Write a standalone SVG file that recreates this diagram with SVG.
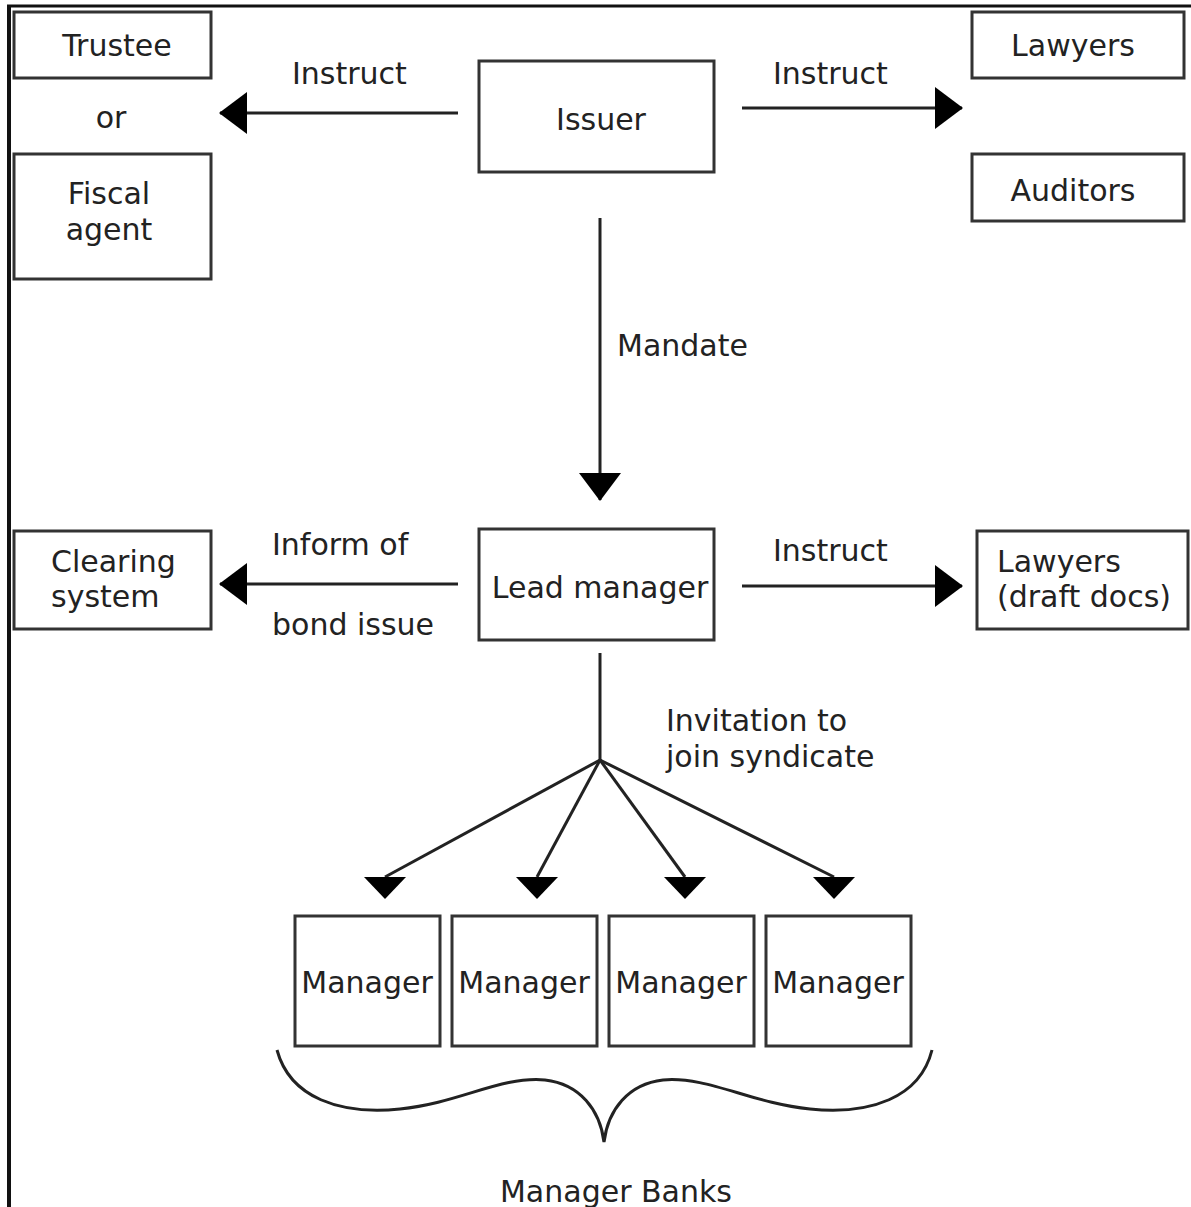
<svg xmlns="http://www.w3.org/2000/svg" width="1191" height="1207" viewBox="0 0 1191 1207">
<style>
  .box { fill: #ffffff; stroke: #333333; stroke-width: 3; }
  .t { font-family: "DejaVu Sans", Verdana, sans-serif; font-size: 30px; fill: #222222; }
  .m { text-anchor: middle; }
  .ln { stroke: #222222; stroke-width: 3; fill: none; }
</style>
<defs>
  <marker id="arr" markerUnits="userSpaceOnUse" markerWidth="28" markerHeight="42" viewBox="0 0 28 42" refX="27" refY="21" orient="auto">
    <path d="M0 0 L28 21 L0 42 Z" fill="#000"/>
  </marker>
  <marker id="arrDown" markerUnits="userSpaceOnUse" markerWidth="22" markerHeight="42" viewBox="0 0 22 42" refX="0" refY="21" orient="90">
    <path d="M0 0 L22 21 L0 42 Z" fill="#000"/>
  </marker>
</defs>
<rect width="1191" height="1207" fill="#ffffff"/>
<g id="frame">
  <line x1="7" y1="6" x2="1191" y2="6" stroke="#111" stroke-width="3"/>
  <line x1="9" y1="5" x2="9" y2="1207" stroke="#111" stroke-width="4"/>
</g>
<g id="connectors">
  <line class="ln" x1="458" y1="113" x2="220" y2="113" marker-end="url(#arr)"/>
  <line class="ln" x1="742" y1="108" x2="962" y2="108" marker-end="url(#arr)"/>
  <line class="ln" x1="600" y1="218" x2="600" y2="500" marker-end="url(#arr)"/>
  <line class="ln" x1="458" y1="584" x2="220" y2="584" marker-end="url(#arr)"/>
  <line class="ln" x1="742" y1="586" x2="962" y2="586" marker-end="url(#arr)"/>
  <line class="ln" x1="600" y1="653" x2="600" y2="760"/>
  <line class="ln" x1="600" y1="760" x2="385" y2="877" marker-end="url(#arrDown)"/>
  <line class="ln" x1="600" y1="760" x2="537" y2="877" marker-end="url(#arrDown)"/>
  <line class="ln" x1="600" y1="760" x2="685" y2="877" marker-end="url(#arrDown)"/>
  <line class="ln" x1="600" y1="760" x2="834" y2="877" marker-end="url(#arrDown)"/>
  <text class="t" x="292" y="84">Instruct</text>
  <text class="t" x="773" y="84">Instruct</text>
  <text class="t" x="617" y="356">Mandate</text>
  <text class="t" x="272" y="555">Inform of</text>
  <text class="t" x="272" y="635">bond issue</text>
  <text class="t" x="773" y="561">Instruct</text>
  <text class="t" x="666" y="731">Invitation to</text>
  <text class="t" x="666" y="767">join syndicate</text>
</g>
<g id="trustee">
  <rect class="box" x="14" y="12" width="197" height="66"/>
  <text class="t m" x="117" y="56">Trustee</text>
</g>
<g id="or">
  <text class="t m" x="111" y="128">or</text>
</g>
<g id="fiscal-agent">
  <rect class="box" x="14" y="154" width="197" height="125"/>
  <text class="t m" x="109" y="204">Fiscal</text>
  <text class="t m" x="109" y="240">agent</text>
</g>
<g id="issuer">
  <rect class="box" x="479" y="61" width="235" height="111"/>
  <text class="t m" x="601" y="130">Issuer</text>
</g>
<g id="lawyers">
  <rect class="box" x="972" y="12" width="212" height="66"/>
  <text class="t m" x="1073" y="56">Lawyers</text>
</g>
<g id="auditors">
  <rect class="box" x="972" y="154" width="212" height="67"/>
  <text class="t m" x="1073" y="201">Auditors</text>
</g>
<g id="clearing-system">
  <rect class="box" x="14" y="531" width="197" height="98"/>
  <text class="t" x="51" y="572">Clearing</text>
  <text class="t" x="51" y="607">system</text>
</g>
<g id="lead-manager">
  <rect class="box" x="479" y="529" width="235" height="111"/>
  <text class="t m" x="600" y="598">Lead manager</text>
</g>
<g id="lawyers-draft">
  <rect class="box" x="977" y="531" width="211" height="98"/>
  <text class="t" x="997" y="572">Lawyers</text>
  <text class="t" x="997" y="607">(draft docs)</text>
</g>
<g id="manager-1">
  <rect class="box" x="295" y="916" width="145" height="130"/>
  <text class="t m" x="367" y="993">Manager</text>
</g>
<g id="manager-2">
  <rect class="box" x="452" y="916" width="145" height="130"/>
  <text class="t m" x="524" y="993">Manager</text>
</g>
<g id="manager-3">
  <rect class="box" x="609" y="916" width="145" height="130"/>
  <text class="t m" x="681" y="993">Manager</text>
</g>
<g id="manager-4">
  <rect class="box" x="766" y="916" width="145" height="130"/>
  <text class="t m" x="838" y="993">Manager</text>
</g>
<g id="manager-banks">
  <path class="ln" d="M277 1050 C290 1098 340 1115 400 1109 C460 1103 500 1076 545 1080 C580 1084 600 1110 604 1142 C608 1110 628 1084 663 1080 C708 1076 750 1103 810 1109 C870 1115 920 1098 932 1050" stroke-width="2.5"/>
  <text class="t m" x="616" y="1202">Manager Banks</text>
</g>
</svg>
